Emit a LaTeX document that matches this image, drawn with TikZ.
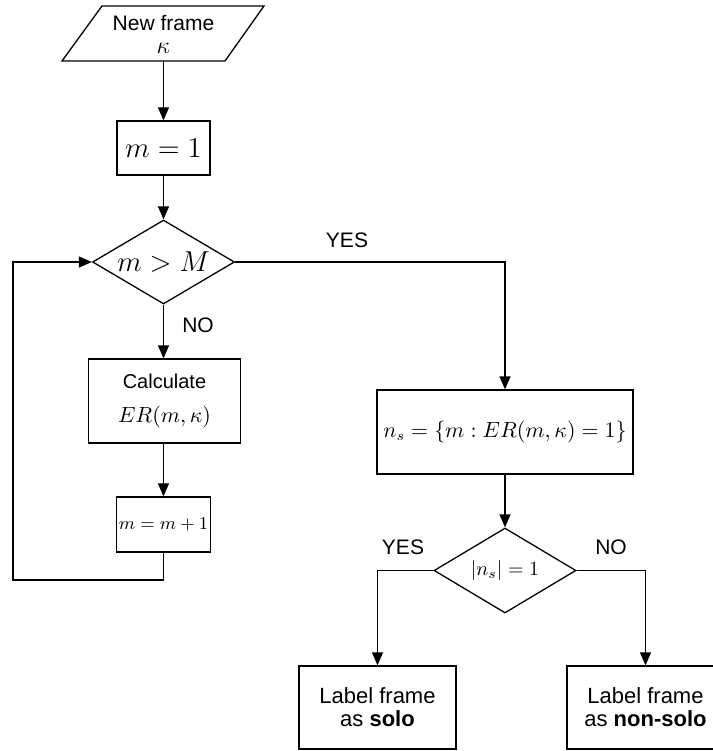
\documentclass[tikz,border=0pt]{standalone}
\usepackage{fontspec}
\setmainfont{Liberation Sans}
\usetikzlibrary{arrows.meta,shapes.geometric}
\begin{document}
\begin{tikzpicture}[x=0.5pt,y=-0.5pt, line width=0.65pt,
  box/.style={draw, rectangle, inner sep=0pt, align=center},
  dia/.style={draw, diamond, inner sep=0pt, shape aspect=1.7, minimum width=71pt, minimum height=42pt},
  arr/.style={-{Triangle[length=6.5pt,width=5.5pt]}},
  lbl/.style={inner sep=0pt, font=\fontsize{10.5}{12}\selectfont}]
\useasboundingbox (0,0) rectangle (713,751);
\clip (0,0) rectangle (713,751);
% start parallelogram
\draw (102,6) -- (264,6) -- (225,61) -- (62,61) -- cycle;
\node[inner sep=0pt, minimum height=27.5pt, align=center, font=\fontsize{10.5}{12}\selectfont] (start) at (163.5,34.5) {New frame\\[-0.5pt]{\large$\kappa$}};
\node[box, minimum width=46.5pt, minimum height=27pt] (m1) at (163.5,148) {\Large $m=1$};
\node[dia] (d1) at (163.5,262) {\Large $m>M$};
\node[box, minimum width=76pt, minimum height=42pt] (calc) at (164.5,401) {Calculate\\[5pt]{\fontsize{11}{13}\selectfont$ER(m,\kappa)$}};
\node[box, minimum width=47pt, minimum height=27.5pt] (mm1) at (163.5,524.5) {\small $m=m+1$};
\node[box, minimum width=128pt, minimum height=42pt, font=\fontsize{10.6}{12.5}\selectfont] (ns) at (505,432) {$n_s=\{m:ER(m,\kappa)=1\}$};
\node[dia, minimum height=42.5pt, font=\fontsize{10.4}{12.5}\selectfont] (d2) at (505,570.5) {$|n_s|=1$};
\node[box, minimum width=78.5pt, minimum height=41.5pt, font=\fontsize{11}{12.5}\selectfont] (solo) at (377.5,707.5) {Label frame\\[-1pt]as \textbf{solo}};
\node[box, minimum width=78.5pt, minimum height=41.5pt, font=\fontsize{11}{12.5}\selectfont] (nonsolo) at (645.5,707.5) {Label frame\\[-1pt]as \textbf{non-solo}};
% labels
\node[lbl] (yes1) at (347,240) {YES};
\node[lbl] (no1) at (198,325) {NO};
\node[lbl] (yes2) at (403,547) {YES};
\node[lbl] (no2) at (611,547) {NO};
\coordinate (lp) at (13,580);
% connectors
\draw[arr] (start.south |- 0,61) -- (m1.north);
\draw[arr] (m1.south) -- (d1.north);
\draw[arr] (d1.south) -- (d1.south |- calc.north);
\draw[arr] (calc.south -| mm1.north) -- (mm1.north);
\draw[arr] (mm1.south) |- (lp) |- (d1.west);
\draw[arr] (d1.east) -| (ns.north);
\draw[arr] (ns.south) -- (d2.north);
\draw[arr] (d2.west) -| (solo.north);
\draw[arr] (d2.east) -| (nonsolo.north);
\end{tikzpicture}
\end{document}
